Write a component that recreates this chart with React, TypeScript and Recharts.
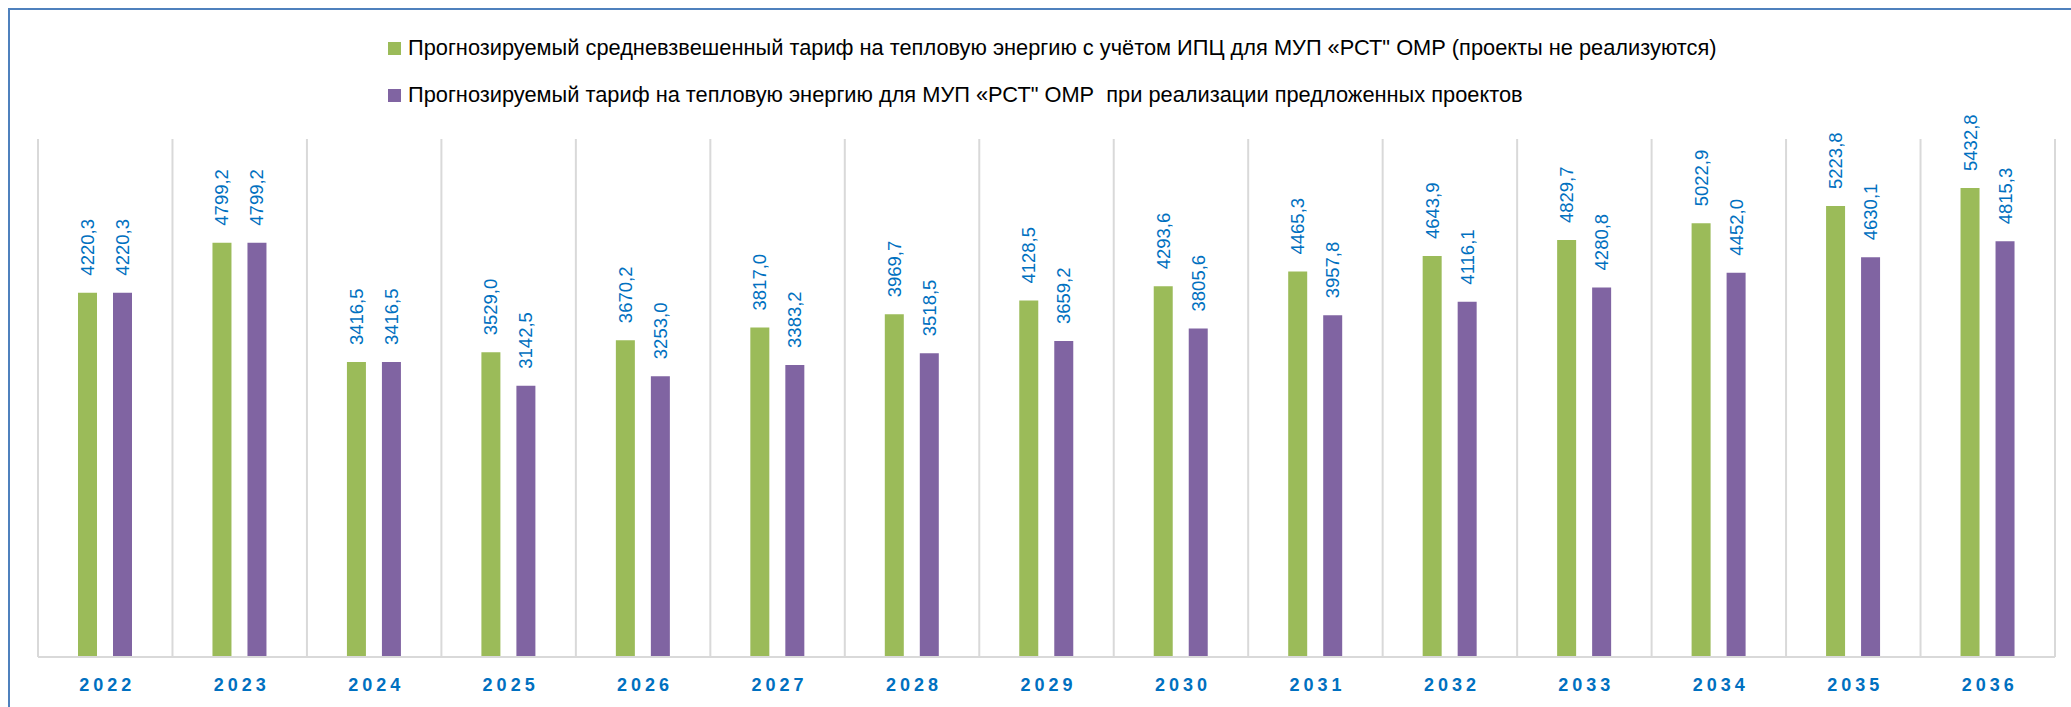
import React from 'react';
import { BarChart, Bar, XAxis, YAxis, CartesianGrid, LabelList } from 'recharts';

const years = ['2022', '2023', '2024', '2025', '2026', '2027', '2028', '2029', '2030', '2031', '2032', '2033', '2034', '2035', '2036'];

// тариф с учётом ИПЦ (проекты не реализуются)
const baseTariff = [4220.3, 4799.2, 3416.5, 3529.0, 3670.2, 3817.0, 3969.7, 4128.5, 4293.6, 4465.3, 4643.9, 4829.7, 5022.9, 5223.8, 5432.8];
// тариф при реализации проектов
const projectTariff = [4220.3, 4799.2, 3416.5, 3142.5, 3253.0, 3383.2, 3518.5, 3659.2, 3805.6, 3957.8, 4116.1, 4280.8, 4452.0, 4630.1, 4815.3];

const seriesNames = [
  'Прогнозируемый средневзвешенный тариф на тепловую энергию с учётом ИПЦ для МУП «РСТ" ОМР (проекты не реализуются)',
  'Прогнозируемый тариф на тепловую энергию для МУП «РСТ" ОМР  при реализации предложенных проектов',
];
const seriesColors = ['#9BBB59', '#8064A2'];

const yDomain = [0, 6000];

const data = years.map((year, i) => ({ year, base: baseTariff[i], project: projectTariff[i] }));

const FONT = '"Liberation Sans", Arial, sans-serif';
const LABEL_BLUE = '#0070C0';

const formatValue = (v: number) => v.toFixed(1).replace('.', ',');

// rotated value label above each bar
const ValueLabel = (props: any) => {
  const { x, y, width, value } = props;
  const cx = Number(x) + Number(width) / 2;
  const ly = Number(y) - 17;
  return (
    <text
      x={cx}
      y={ly}
      transform={`rotate(-90 ${cx} ${ly})`}
      textAnchor="start"
      dominantBaseline="central"
      fill={LABEL_BLUE}
      fontSize={18.5}
      fontFamily={FONT}
    >
      {formatValue(Number(value))}
    </text>
  );
};

const YearTick = (props: any) => {
  const { x, payload } = props;
  return (
    <text
      x={x + 2}
      y={685}
      textAnchor="middle"
      dominantBaseline="central"
      fill={LABEL_BLUE}
      fontSize={18}
      fontWeight="bold"
      letterSpacing={4}
      fontFamily={FONT}
    >
      {payload.value}
    </text>
  );
};

export default function App() {
  return (
    <div style={{ position: 'fixed', left: 0, top: 0, width: 2071, height: 707, background: '#fff', overflow: 'hidden' }}>
      {/* chart frame */}
      <div
        style={{
          position: 'absolute',
          left: 8,
          top: 8,
          width: 2200,
          height: 800,
          borderTop: '2px solid #4F81BD',
          borderLeft: '2px solid #4F81BD',
        }}
      />

      {/* legend */}
      <div style={{ position: 'absolute', left: 388, top: 0, fontFamily: FONT, fontSize: 21.8, color: '#000' }}>
        {seriesNames.map((name, i) => (
          <div
            key={name}
            style={{
              position: 'absolute',
              left: 0,
              top: i === 0 ? 35 : 82,
              height: 26,
              display: 'flex',
              alignItems: 'center',
              whiteSpace: 'pre',
            }}
          >
            <span style={{ display: 'inline-block', width: 13, height: 13, background: seriesColors[i], marginRight: 7 }} />
            <span>{name}</span>
          </div>
        ))}
      </div>

      <div style={{ position: 'absolute', left: 0, top: 0 }}>
        <BarChart
          width={2071}
          height={707}
          data={data}
          margin={{ top: 139, right: 16, left: 38, bottom: 0 }}
          barSize={19}
          barGap={16}
        >
          <CartesianGrid
            horizontal={false}
            stroke="#D9D9D9"
            strokeWidth={2}
            verticalCoordinatesGenerator={({ offset }: any) =>
              Array.from({ length: years.length + 1 }, (_, i) => offset.left + (i * offset.width) / years.length)
            }
          />
          <XAxis
            dataKey="year"
            height={50}
            tickLine={false}
            axisLine={{ stroke: '#D9D9D9', strokeWidth: 2 }}
            tick={<YearTick />}
            interval={0}
          />
          <YAxis hide domain={yDomain} />
          <Bar dataKey="base" name={seriesNames[0]} fill={seriesColors[0]} isAnimationActive={false}>
            <LabelList dataKey="base" content={<ValueLabel />} />
          </Bar>
          <Bar dataKey="project" name={seriesNames[1]} fill={seriesColors[1]} isAnimationActive={false}>
            <LabelList dataKey="project" content={<ValueLabel />} />
          </Bar>
        </BarChart>
      </div>
    </div>
  );
}
